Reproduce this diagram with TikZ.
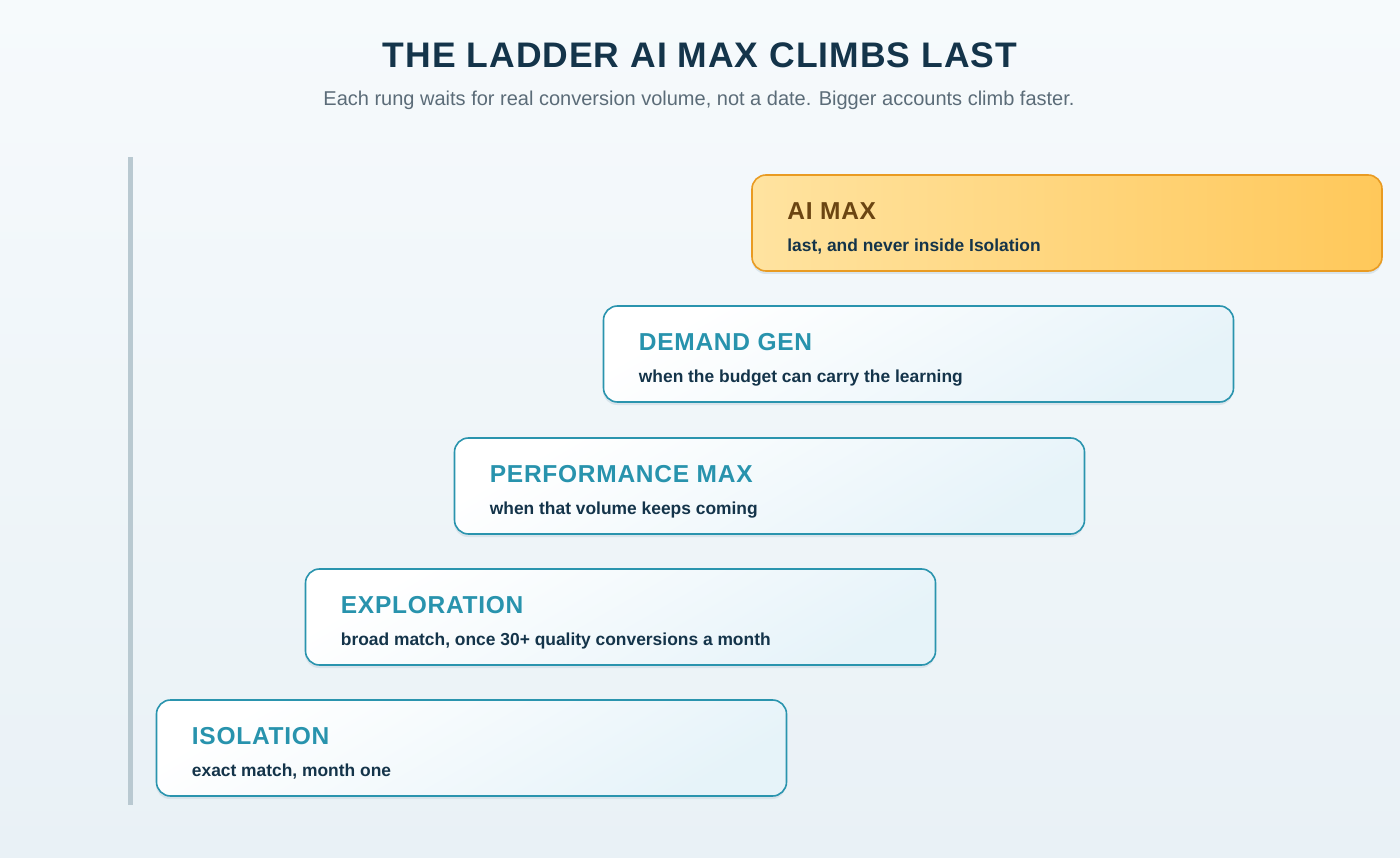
\documentclass[tikz,border=0pt]{standalone}
\usepackage{fontspec}
\setmainfont{Liberation Sans}
\usetikzlibrary{calc}
\definecolor{bgtop}{HTML}{F6FAFC}
\definecolor{bgbot}{HTML}{E9F1F6}
\definecolor{navy}{HTML}{14344A}
\definecolor{subgray}{HTML}{5B6C78}
\definecolor{teal}{HTML}{2A94AE}
\definecolor{tealtext}{HTML}{2893AD}
\definecolor{boxend}{HTML}{E6F3F9}
\definecolor{shadowc}{HTML}{D3E0E8}
\definecolor{barc}{HTML}{B9C9D1}
\definecolor{goldL}{HTML}{FFE3A0}
\definecolor{goldR}{HTML}{FFC85A}
\definecolor{goldB}{HTML}{E99B22}
\definecolor{brown}{HTML}{6B4512}
\tikzset{
  rung/.style={draw=teal, line width=1.6pt, rounded corners=14pt,
    minimum width=630pt, minimum height=96pt, inner sep=0pt,
    top color=white, bottom color=boxend, shading angle=30},
  toprung/.style={draw=goldB, line width=1.6pt, rounded corners=14pt,
    minimum width=630pt, minimum height=96pt, inner sep=0pt,
    left color=goldL, right color=goldR},
  rungshadow/.style={fill=shadowc, opacity=0.8, rounded corners=14pt,
    minimum width=630pt, minimum height=96pt, inner sep=0pt, draw=none},
  rungtitle/.style={anchor=base west, inner sep=0pt, text=tealtext,
    font=\fontsize{24.5}{28}\selectfont\bfseries\addfontfeature{LetterSpace=3}},
  rungsub/.style={anchor=base west, inner sep=0pt, text=navy,
    font=\fontsize{17.4}{20}\selectfont\bfseries},
}
\begin{document}
\begin{tikzpicture}[x=1pt,y=-1pt]
\useasboundingbox (0,0) rectangle (1400,858);
\shade[top color=bgtop, bottom color=bgbot] (0,0) rectangle (1400,858);
\node[anchor=base, inner sep=0pt, text=navy,
  font=\fontsize{35.5}{40}\selectfont\bfseries\addfontfeature{LetterSpace=2.8}] (title) at (700,68) {THE LADDER AI MAX CLIMBS LAST};
\node[anchor=base, inner sep=0pt, text=subgray,
  font=\fontsize{20}{24}\selectfont] (subtitle) at (699,106) {Each rung waits for real conversion volume, not a date. Bigger accounts climb faster.};
\fill[barc] (128,157) rectangle (133,805);
% shadows
\foreach \cx/\cy in {471/751,620/620,769/489,918/357,1067/226}{
  \node[rungshadow] at (\cx,\cy) {};
}
\node[rung] (iso) at (471.5,748) {};
\node[rung] (exp) at (620.5,617) {};
\node[rung] (pmax) at (769.5,486) {};
\node[rung] (dgen) at (918.5,354) {};
\node[toprung] (aimax) at (1067,223) {};
\node[rungtitle] (isoT) at ($(iso.north west)+(36,45)$) {ISOLATION};
\node[rungsub] (isoS) at ($(iso.north west)+(36,77)$) {exact match, month one};
\node[rungtitle] (expT) at ($(exp.north west)+(36,45)$) {EXPLORATION};
\node[rungsub] (expS) at ($(exp.north west)+(36,77)$) {broad match, once 30+ quality conversions a month};
\node[rungtitle] (pmaxT) at ($(pmax.north west)+(36,45)$) {PERFORMANCE MAX};
\node[rungsub] (pmaxS) at ($(pmax.north west)+(36,77)$) {when that volume keeps coming};
\node[rungtitle] (dgenT) at ($(dgen.north west)+(36,45)$) {DEMAND GEN};
\node[rungsub] (dgenS) at ($(dgen.north west)+(36,77)$) {when the budget can carry the learning};
\node[rungtitle, text=brown] (aimaxT) at ($(aimax.north west)+(36,45)$) {AI MAX};
\node[rungsub] (aimaxS) at ($(aimax.north west)+(36,77)$) {last, and never inside Isolation};
\end{tikzpicture}
\end{document}
